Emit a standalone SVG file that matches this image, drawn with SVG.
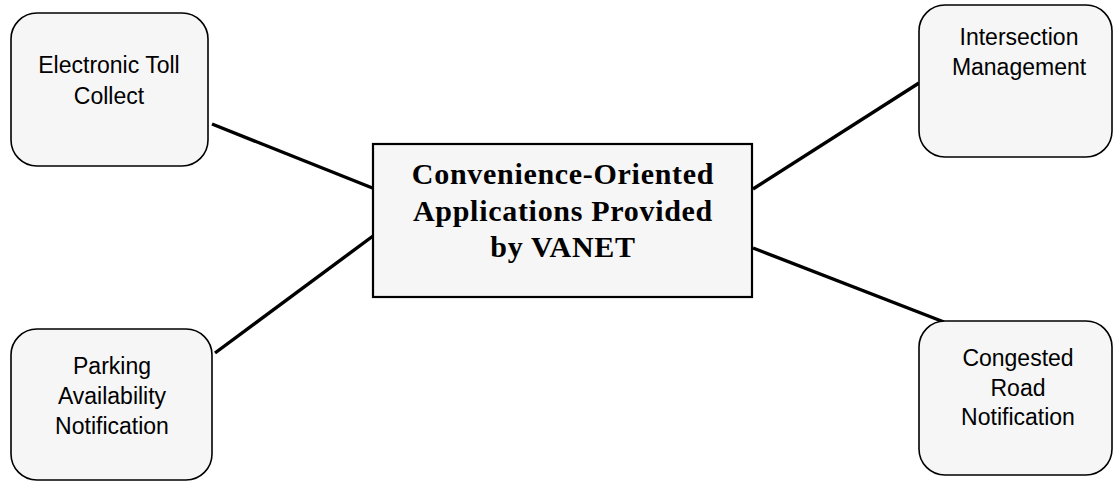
<svg xmlns="http://www.w3.org/2000/svg" width="1113" height="482" viewBox="0 0 1113 482">
<style>
.node rect{fill:#f6f6f6;stroke:#000;stroke-width:1.6}
.center rect{fill:#f6f6f6;stroke:#000;stroke-width:2.2}
.lbl{font-family:"Liberation Sans",Arial,sans-serif;font-size:23px;fill:#000;text-anchor:middle}
.ttl{font-family:"Liberation Serif","Times New Roman",serif;font-size:30px;font-weight:bold;fill:#000;text-anchor:middle;letter-spacing:0.7px}
.conn line{stroke:#000;stroke-width:3.4;stroke-linecap:butt}
</style>
<rect width="1113" height="482" fill="#fff"/>
<g id="connectors" class="conn">
<line x1="212" y1="124" x2="375" y2="189"/>
<line x1="215" y1="353" x2="373" y2="236"/>
<line x1="753" y1="189" x2="919" y2="83"/>
<line x1="753" y1="248" x2="944" y2="322"/>
</g>
<g id="center" class="center">
<rect x="373" y="144" width="379" height="153"/>
<text class="ttl" x="563" y="184">Convenience-Oriented</text>
<text class="ttl" x="563" y="220.5">Applications Provided</text>
<text class="ttl" x="563" y="257">by VANET</text>
</g>
<g id="toll" class="node">
<rect x="11" y="13" width="197" height="153" rx="26"/>
<text class="lbl" x="109" y="73">Electronic Toll</text>
<text class="lbl" x="109" y="104">Collect</text>
</g>
<g id="intersection" class="node">
<rect x="919" y="5" width="193" height="152" rx="26"/>
<text class="lbl" x="1019" y="45">Intersection</text>
<text class="lbl" x="1019" y="75">Management</text>
</g>
<g id="parking" class="node">
<rect x="11" y="329" width="201" height="151" rx="26"/>
<text class="lbl" x="112" y="374">Parking</text>
<text class="lbl" x="112" y="404">Availability</text>
<text class="lbl" x="112" y="434">Notification</text>
</g>
<g id="congested" class="node">
<rect x="919" y="321" width="193" height="154" rx="26"/>
<text class="lbl" x="1018" y="366">Congested</text>
<text class="lbl" x="1018" y="396">Road</text>
<text class="lbl" x="1018" y="425">Notification</text>
</g>
</svg>
